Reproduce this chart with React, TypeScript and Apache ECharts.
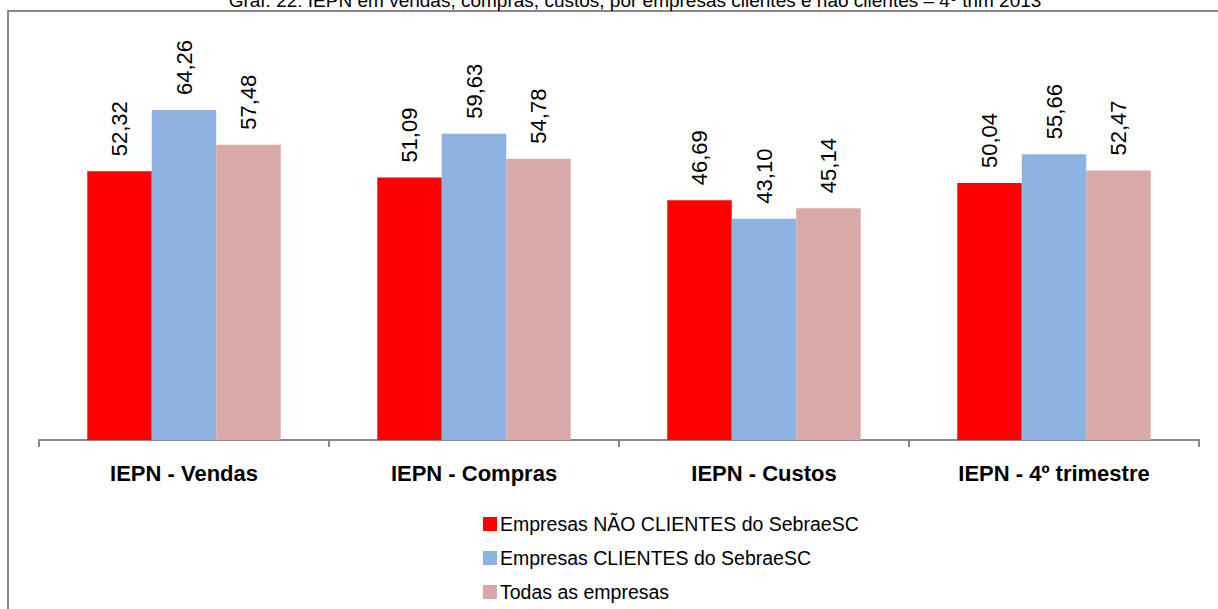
import React, { useEffect, useRef } from "react";
import * as echarts from "echarts";

const categories = ["IEPN - Vendas", "IEPN - Compras", "IEPN - Custos", "IEPN - 4º trimestre"];
const seriesNames = [
  "Empresas NÃO CLIENTES do SebraeSC",
  "Empresas CLIENTES do SebraeSC",
  "Todas as empresas",
];
const naoClientes = [52.32, 51.09, 46.69, 50.04];
const clientes = [64.26, 59.63, 43.1, 55.66];
const todas = [57.48, 54.78, 45.14, 52.47];
const colors = ["#FF0000", "#8DB3E2", "#D9A9A8"];
const titleText =
  "Graf. 22: IEPN em vendas, compras, custos, por empresas clientes e não clientes – 4º trim 2013";

const FONT = "'Liberation Sans', Arial, sans-serif";

export default function App() {
  const ref = useRef<HTMLDivElement>(null);
  useEffect(() => {
    if (!ref.current) return;
    const chart = echarts.init(ref.current, undefined, { renderer: "svg" });
    const mk = (name: string, data: number[], color: string) => ({
      name,
      type: "bar",
      data,
      barGap: "0%",
      barCategoryGap: "33.3%",
      itemStyle: { color },
      label: {
        show: true,
        position: "top",
        rotate: 90,
        align: "left",
        verticalAlign: "middle",
        distance: 15,
        fontFamily: FONT,
        fontSize: 22,
        color: "#000",
        formatter: (p: any) => p.value.toFixed(2).replace(".", ","),
      },
    });
    chart.setOption({
      animation: false,
      backgroundColor: "#fff",
      graphic: [
        {
          type: "rect",
          shape: { x: 8, y: 11, width: 1400, height: 800 },
          style: { fill: "none", stroke: "#888", lineWidth: 2 },
          z: -1,
        },
        {
          type: "text",
          x: 635,
          y: 10,
          style: {
            text: titleText,
            align: "center",
            verticalAlign: "bottom",
            fontFamily: FONT,
            fontSize: 19,
            fill: "#000",
          },
        },
      ],
      grid: { left: 39, right: 19, top: 80.5, bottom: 169 },
      xAxis: {
        type: "category",
        data: categories,
        axisLine: { lineStyle: { color: "#888", width: 2 } },
        axisTick: { show: true, length: 7, lineStyle: { color: "#888", width: 2 } },
        axisLabel: {
          margin: 22,
          fontFamily: FONT,
          fontWeight: "bold",
          fontSize: 22,
          color: "#000",
        },
      },
      yAxis: {
        type: "value",
        min: 0,
        max: 70,
        show: false,
        splitLine: { show: false },
      },
      legend: {
        orient: "vertical",
        left: 483,
        top: 514,
        padding: 0,
        itemWidth: 14,
        itemHeight: 14,
        itemGap: 14,
        icon: "rect",
        data: seriesNames,
        textStyle: {
          fontFamily: FONT,
          fontSize: 19.5,
          lineHeight: 20,
          color: "#000",
          padding: [0, 0, 0, -2],
        },
      },
      series: [
        mk(seriesNames[0], naoClientes, colors[0]),
        mk(seriesNames[1], clientes, colors[1]),
        mk(seriesNames[2], todas, colors[2]),
      ],
    });
    return () => chart.dispose();
  }, []);
  return (
    <div
      ref={ref}
      style={{ position: "fixed", left: 0, top: 0, width: 1218, height: 609 }}
    />
  );
}
